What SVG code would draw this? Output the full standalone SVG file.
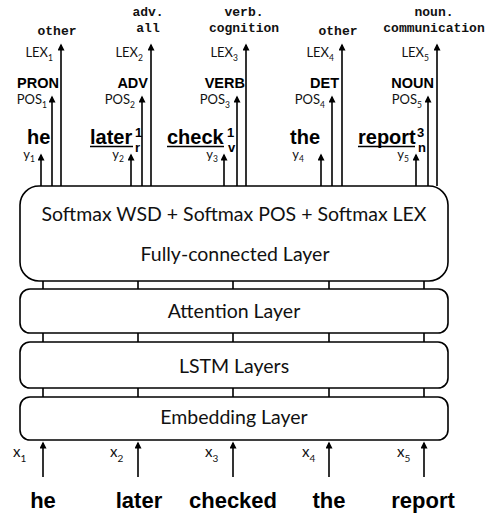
<svg xmlns="http://www.w3.org/2000/svg" width="491" height="514" viewBox="0 0 491 514">
<style>
.box{fill:#fff;stroke:#000;stroke-width:1.6}
.ln{stroke:#000;stroke-width:1.6;fill:none}
.ar{stroke:#000;stroke-width:1.6;fill:none;marker-end:url(#ah)}
.lt{font-family:Lato,"Noto Sans",sans-serif;font-size:19.5px;fill:#111;text-anchor:middle}
.sm{font-family:Lato,"Noto Sans",sans-serif;font-size:13px;fill:#111;text-anchor:end}
.sb{font-size:8.5px}
.xl{font-family:Lato,"Noto Sans",sans-serif;font-size:15px;fill:#111}
.cr{font-family:"Liberation Mono",monospace;font-weight:bold;font-size:13px;fill:#111;text-anchor:middle}
.bd{font-family:"Liberation Sans",Arial,sans-serif;font-weight:bold;font-size:14.5px;fill:#000;text-anchor:end}
.wd{font-family:"Liberation Sans",Arial,sans-serif;font-weight:bold;font-size:20px;fill:#000}
.ss{font-family:"Liberation Sans",Arial,sans-serif;font-weight:bold;font-size:13px;fill:#000}
.bw{font-family:"Liberation Sans",Arial,sans-serif;font-weight:bold;font-size:22px;fill:#000;text-anchor:middle}
.ul{stroke:#000;stroke-width:1.5}
</style>
<defs>
<marker id="ah" viewBox="0 0 10 10" refX="8" refY="5" markerWidth="9" markerHeight="7" markerUnits="userSpaceOnUse" orient="auto">
<path d="M0,0 L10,5 L0,10 z" fill="#000"/>
</marker>
</defs>

<g id="connectors">
<!-- outputs -->
<line class="ar" x1="41" y1="186" x2="41" y2="155"/>
<line class="ar" x1="52" y1="186" x2="52" y2="97"/>
<line class="ar" x1="61" y1="186" x2="61" y2="45"/>
<line class="ar" x1="131" y1="186" x2="131" y2="155"/>
<line class="ar" x1="142" y1="186" x2="142" y2="97"/>
<line class="ar" x1="151" y1="186" x2="151" y2="45"/>
<line class="ar" x1="224" y1="186" x2="224" y2="155"/>
<line class="ar" x1="237" y1="186" x2="237" y2="97"/>
<line class="ar" x1="246" y1="186" x2="246" y2="45"/>
<line class="ar" x1="321" y1="186" x2="321" y2="155"/>
<line class="ar" x1="332" y1="186" x2="332" y2="97"/>
<line class="ar" x1="342" y1="186" x2="342" y2="45"/>
<line class="ar" x1="416" y1="186" x2="416" y2="155"/>
<line class="ar" x1="428" y1="186" x2="428" y2="97"/>
<line class="ar" x1="437" y1="186" x2="437" y2="45"/>
<!-- between layers -->
<path class="ln" d="M43,281V289M138,281V289M233,281V289M329,281V289M424,281V289"/>
<path class="ln" d="M43,333V342M138,333V342M233,333V342M329,333V342M424,333V342"/>
<path class="ln" d="M43,388V397M138,388V397M233,388V397M329,388V397M424,388V397"/>
<!-- inputs -->
<line class="ar" x1="43" y1="477" x2="43" y2="443"/>
<line class="ar" x1="138" y1="477" x2="138" y2="443"/>
<line class="ar" x1="233" y1="477" x2="233" y2="443"/>
<line class="ar" x1="329" y1="477" x2="329" y2="443"/>
<line class="ar" x1="424" y1="477" x2="424" y2="443"/>
</g>

<g id="output-layer">
<rect class="box" x="20" y="186" width="428" height="95" rx="19"/>
<text class="lt" x="234" y="221">Softmax WSD + Softmax POS + Softmax LEX</text>
<text class="lt" x="235" y="261">Fully-connected Layer</text>
</g>
<g id="attention-layer">
<rect class="box" x="20" y="289" width="428" height="44" rx="10"/>
<text class="lt" x="234" y="318">Attention Layer</text>
</g>
<g id="lstm-layers">
<rect class="box" x="20" y="342" width="428" height="46" rx="10"/>
<text class="lt" x="234" y="373">LSTM Layers</text>
</g>
<g id="embedding-layer">
<rect class="box" x="20" y="397" width="428" height="43" rx="10"/>
<text class="lt" x="234" y="424">Embedding Layer</text>
</g>

<g id="lex-labels">
<text class="cr" x="57" y="35">other</text>
<text class="cr" x="148" y="16">adv.</text>
<text class="cr" x="148" y="32">all</text>
<text class="cr" x="244" y="16">verb.</text>
<text class="cr" x="244" y="32">cognition</text>
<text class="cr" x="338" y="35">other</text>
<text class="cr" x="434" y="16">noun.</text>
<text class="cr" x="434" y="32">communication</text>
<text class="sm" x="53" y="57">LEX<tspan class="sb" dy="4">1</tspan></text>
<text class="sm" x="143" y="57">LEX<tspan class="sb" dy="4">2</tspan></text>
<text class="sm" x="238" y="57">LEX<tspan class="sb" dy="4">3</tspan></text>
<text class="sm" x="334" y="57">LEX<tspan class="sb" dy="4">4</tspan></text>
<text class="sm" x="429" y="57">LEX<tspan class="sb" dy="4">5</tspan></text>
</g>

<g id="pos-labels">
<text class="bd" x="59" y="88">PRON</text>
<text class="bd" x="148" y="88">ADV</text>
<text class="bd" x="245" y="88">VERB</text>
<text class="bd" x="339" y="88">DET</text>
<text class="bd" x="434" y="88">NOUN</text>
<text class="sm" x="47" y="104">POS<tspan class="sb" dy="4">1</tspan></text>
<text class="sm" x="135" y="104">POS<tspan class="sb" dy="4">2</tspan></text>
<text class="sm" x="230" y="104">POS<tspan class="sb" dy="4">3</tspan></text>
<text class="sm" x="325" y="104">POS<tspan class="sb" dy="4">4</tspan></text>
<text class="sm" x="422" y="104">POS<tspan class="sb" dy="4">5</tspan></text>
</g>

<g id="wsd-labels">
<text class="wd" x="27" y="144">he</text>
<text class="wd" x="90" y="144">later</text>
<line class="ul" x1="90" y1="146.5" x2="133" y2="146.5"/>
<text class="ss" x="135" y="137">1</text>
<text class="ss" x="135" y="152">r</text>
<text class="wd" x="167" y="144">check</text>
<line class="ul" x1="167" y1="146.5" x2="224" y2="146.5"/>
<text class="ss" x="227" y="137">1</text>
<text class="ss" x="228" y="152">v</text>
<text class="wd" x="290" y="144">the</text>
<text class="wd" x="358" y="144">report</text>
<line class="ul" x1="358" y1="146.5" x2="415" y2="146.5"/>
<text class="ss" x="417" y="137">3</text>
<text class="ss" x="418" y="152">n</text>
<text class="sm" x="35" y="159">y<tspan class="sb" dy="3">1</tspan></text>
<text class="sm" x="124" y="159">y<tspan class="sb" dy="3">2</tspan></text>
<text class="sm" x="218" y="159">y<tspan class="sb" dy="3">3</tspan></text>
<text class="sm" x="304" y="159">y<tspan class="sb" dy="3">4</tspan></text>
<text class="sm" x="409" y="159">y<tspan class="sb" dy="3">5</tspan></text>
</g>

<g id="inputs">
<text class="xl" x="13" y="457">x<tspan font-size="10" dy="5">1</tspan></text>
<text class="xl" x="110" y="457">x<tspan font-size="10" dy="5">2</tspan></text>
<text class="xl" x="205" y="457">x<tspan font-size="10" dy="5">3</tspan></text>
<text class="xl" x="302" y="457">x<tspan font-size="10" dy="5">4</tspan></text>
<text class="xl" x="397" y="457">x<tspan font-size="10" dy="5">5</tspan></text>
<text class="bw" x="43" y="508">he</text>
<text class="bw" x="139" y="508">later</text>
<text class="bw" x="233" y="508">checked</text>
<text class="bw" x="329" y="508">the</text>
<text class="bw" x="423" y="508">report</text>
</g>
</svg>
